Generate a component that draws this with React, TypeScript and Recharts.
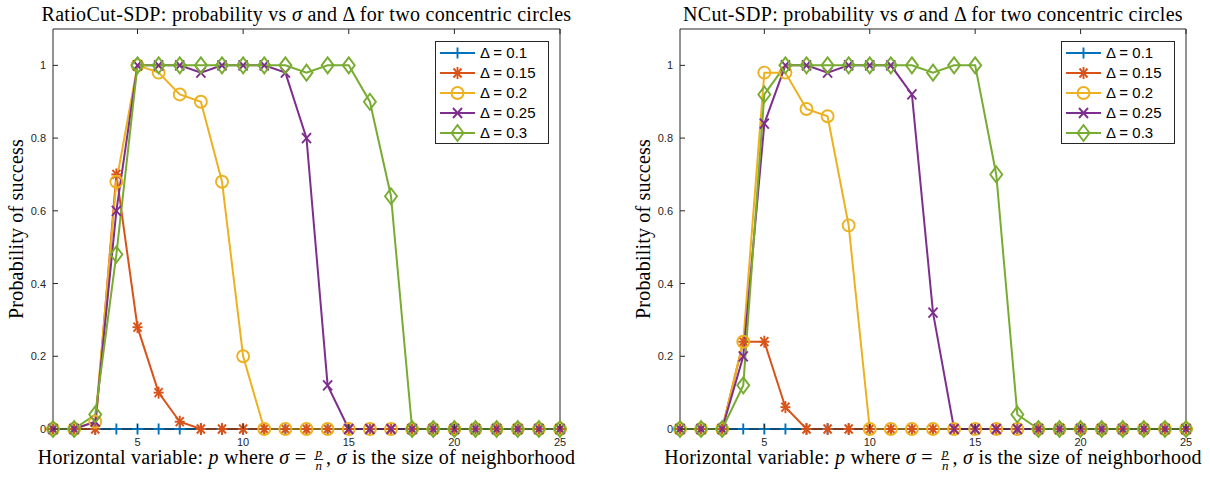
import React from "react";
import { LineChart, Line, XAxis, YAxis, Legend } from "recharts";

const X_VALUES = [1, 2, 3, 4, 5, 6, 7, 8, 9, 10, 11, 12, 13, 14, 15, 16, 17, 18, 19, 20, 21, 22, 23, 24, 25];
const X_TICKS = [5, 10, 15, 20, 25];
const Y_TICKS = [0, 0.2, 0.4, 0.6, 0.8, 1];
const SERIES_LABELS = ["Δ = 0.1", "Δ = 0.15", "Δ = 0.2", "Δ = 0.25", "Δ = 0.3"];

// RatioCut-SDP
const RATIO_D010 = [0, 0, 0, 0, 0, 0, 0, 0, 0, 0, 0, 0, 0, 0, 0, 0, 0, 0, 0, 0, 0, 0, 0, 0, 0];
const RATIO_D015 = [0, 0, 0, 0.7, 0.28, 0.1, 0.02, 0, 0, 0, 0, 0, 0, 0, 0, 0, 0, 0, 0, 0, 0, 0, 0, 0, 0];
const RATIO_D020 = [0, 0, 0.02, 0.68, 1, 0.98, 0.92, 0.9, 0.68, 0.2, 0, 0, 0, 0, 0, 0, 0, 0, 0, 0, 0, 0, 0, 0, 0];
const RATIO_D025 = [0, 0, 0.02, 0.6, 1, 1, 1, 0.98, 1, 1, 1, 0.98, 0.8, 0.12, 0, 0, 0, 0, 0, 0, 0, 0, 0, 0, 0];
const RATIO_D030 = [0, 0, 0.04, 0.48, 1, 1, 1, 1, 1, 1, 1, 1, 0.98, 1, 1, 0.9, 0.64, 0, 0, 0, 0, 0, 0, 0, 0];

// NCut-SDP
const NCUT_D010 = [0, 0, 0, 0, 0, 0, 0, 0, 0, 0, 0, 0, 0, 0, 0, 0, 0, 0, 0, 0, 0, 0, 0, 0, 0];
const NCUT_D015 = [0, 0, 0, 0.24, 0.24, 0.06, 0, 0, 0, 0, 0, 0, 0, 0, 0, 0, 0, 0, 0, 0, 0, 0, 0, 0, 0];
const NCUT_D020 = [0, 0, 0, 0.24, 0.98, 0.98, 0.88, 0.86, 0.56, 0, 0, 0, 0, 0, 0, 0, 0, 0, 0, 0, 0, 0, 0, 0, 0];
const NCUT_D025 = [0, 0, 0, 0.2, 0.84, 1, 1, 0.98, 1, 1, 1, 0.92, 0.32, 0, 0, 0, 0, 0, 0, 0, 0, 0, 0, 0, 0];
const NCUT_D030 = [0, 0, 0, 0.12, 0.92, 1, 1, 1, 1, 1, 1, 1, 0.98, 1, 1, 0.7, 0.04, 0, 0, 0, 0, 0, 0, 0, 0];

const SERIF = '"Liberation Serif", "DejaVu Serif", serif';
const SANS = '"Liberation Sans", Arial, sans-serif';
const AXIS_COLOR = "#262626";

const KEYS = ["d010", "d015", "d020", "d025", "d030"];
const COLORS = ["#0072BD", "#D95319", "#EDB120", "#7E2F8E", "#77AC30"];
const SHAPES = ["plus", "star", "circle", "cross", "diamond"];

function buildRows(series: number[][]) {
  return X_VALUES.map((x, i) => {
    const row: any = { x };
    KEYS.forEach((k, j) => {
      row[k] = series[j][i];
    });
    return row;
  });
}

function Marker({ shape, cx, cy, color }: { shape: string; cx: number; cy: number; color: string }) {
  const sw = 1.9;
  if (shape === "plus") {
    return (
      <g stroke={color} strokeWidth={sw}>
        <line x1={cx - 5.5} y1={cy} x2={cx + 5.5} y2={cy} />
        <line x1={cx} y1={cy - 5.5} x2={cx} y2={cy + 5.5} />
      </g>
    );
  }
  if (shape === "star") {
    return (
      <g stroke={color} strokeWidth={sw}>
        <line x1={cx - 5} y1={cy} x2={cx + 5} y2={cy} />
        <line x1={cx} y1={cy - 6} x2={cx} y2={cy + 6} />
        <line x1={cx - 4} y1={cy - 4.5} x2={cx + 4} y2={cy + 4.5} />
        <line x1={cx - 4} y1={cy + 4.5} x2={cx + 4} y2={cy - 4.5} />
      </g>
    );
  }
  if (shape === "circle") {
    return <circle cx={cx} cy={cy} r={6} fill="none" stroke={color} strokeWidth={sw} />;
  }
  if (shape === "cross") {
    return (
      <g stroke={color} strokeWidth={sw}>
        <line x1={cx - 4.5} y1={cy - 5} x2={cx + 4.5} y2={cy + 5} />
        <line x1={cx - 4.5} y1={cy + 5} x2={cx + 4.5} y2={cy - 5} />
      </g>
    );
  }
  return (
    <polygon
      points={`${cx},${cy - 8} ${cx + 6},${cy} ${cx},${cy + 8} ${cx - 6},${cy}`}
      fill="none"
      stroke={color}
      strokeWidth={sw}
    />
  );
}

function makeDot(shape: string, color: string) {
  return (props: any) => {
    const { cx, cy, index } = props;
    if (cx == null || cy == null) return <g key={`e-${index}`} />;
    return <Marker key={`m-${index}`} shape={shape} cx={cx} cy={cy} color={color} />;
  };
}

const BottomTick = (props: any) => {
  const { x, y, payload } = props;
  return (
    <g>
      <line x1={x} y1={y} x2={x} y2={y - 5} stroke={AXIS_COLOR} />
      <text x={x} y={y + 17} textAnchor="middle" fontSize={11} fill={AXIS_COLOR} fontFamily={SANS}>
        {payload.value}
      </text>
    </g>
  );
};

const TopTick = (props: any) => {
  const { x, y } = props;
  return <line x1={x} y1={y} x2={x} y2={y + 5} stroke={AXIS_COLOR} />;
};

const LeftTick = (props: any) => {
  const { x, y, payload } = props;
  return (
    <g>
      <line x1={x} y1={y} x2={x + 5} y2={y} stroke={AXIS_COLOR} />
      <text x={x - 7} y={y + 4} textAnchor="end" fontSize={11} fill={AXIS_COLOR} fontFamily={SANS}>
        {payload.value}
      </text>
    </g>
  );
};

const RightTick = (props: any) => {
  const { x, y } = props;
  return <line x1={x} y1={y} x2={x - 5} y2={y} stroke={AXIS_COLOR} />;
};

function LegendBox() {
  return (
    <svg width={114} height={103} style={{ display: "block" }}>
      <rect x={0.5} y={0.5} width={113} height={102} fill="#fff" stroke={AXIS_COLOR} />
      {SERIES_LABELS.map((label, i) => {
        const cy = 12 + i * 20;
        return (
          <g key={label}>
            <line x1={5} y1={cy} x2={40} y2={cy} stroke={COLORS[i]} strokeWidth={2} />
            <Marker shape={SHAPES[i]} cx={22.5} cy={cy} color={COLORS[i]} />
            <text x={45} y={cy + 5} fontSize={15} fontFamily={SANS} fill="#000">
              {label}
            </text>
          </g>
        );
      })}
    </svg>
  );
}

function Frac() {
  return (
    <span
      style={{
        display: "inline-flex",
        flexDirection: "column",
        alignItems: "center",
        fontSize: 13,
        lineHeight: "12px",
        verticalAlign: "middle",
        fontStyle: "italic",
        letterSpacing: 0,
        margin: "0 3px",
      }}
    >
      <span style={{ borderBottom: `1px solid ${AXIS_COLOR}`, padding: "0 1px" }}>p</span>
      <span>n</span>
    </span>
  );
}

function SubPlot({
  left,
  marginLeft,
  marginRight,
  title,
  series,
  legendLeft,
}: {
  left: number;
  marginLeft: number;
  marginRight: number;
  title: React.ReactNode;
  series: number[][];
  legendLeft: number;
}) {
  const width = 605;
  const rows = buildRows(series);
  const plotCenter = marginLeft + (width - marginLeft - marginRight) / 2;
  return (
    <div style={{ position: "absolute", left, top: 0, width, height: 477 }}>
      <div
        style={{
          position: "absolute",
          left: plotCenter,
          top: 2,
          transform: "translateX(-50%)",
          whiteSpace: "nowrap",
          fontFamily: SERIF,
          fontSize: 20,
          letterSpacing: 0.3,
          lineHeight: "24px",
          color: "#000",
        }}
      >
        {title}
      </div>
      <div
        style={{
          position: "absolute",
          left: marginLeft - 37,
          top: 229,
          transform: "translate(-50%, -50%) rotate(-90deg)",
          whiteSpace: "nowrap",
          fontFamily: SERIF,
          fontSize: 20,
          letterSpacing: 0.2,
          color: "#000",
        }}
      >
        Probability of success
      </div>
      <div
        style={{
          position: "absolute",
          left: plotCenter,
          top: 446,
          transform: "translateX(-50%)",
          whiteSpace: "nowrap",
          fontFamily: SERIF,
          fontSize: 20,
          letterSpacing: 0.25,
          color: "#000",
        }}
      >
        Horizontal variable: <i>p</i> where <i>σ</i> = <Frac />, <i>σ</i> is the size of neighborhood
      </div>
      <LineChart
        width={width}
        height={477}
        data={rows}
        margin={{ top: 28, bottom: 28, left: marginLeft - 40, right: marginRight - 1 }}
      >
        <XAxis
          dataKey="x"
          type="number"
          domain={[1, 25]}
          ticks={X_TICKS}
          interval={0}
          height={20}
          tickSize={0}
          tickMargin={0}
          tick={BottomTick}
          stroke={AXIS_COLOR}
        />
        <XAxis
          xAxisId="top"
          orientation="top"
          dataKey="x"
          type="number"
          domain={[1, 25]}
          ticks={X_TICKS}
          interval={0}
          height={1}
          tickSize={0}
          tickMargin={0}
          tick={TopTick}
          stroke={AXIS_COLOR}
        />
        <YAxis
          type="number"
          domain={[0, 1.1]}
          ticks={Y_TICKS}
          interval={0}
          width={40}
          tickSize={0}
          tickMargin={0}
          tick={LeftTick}
          stroke={AXIS_COLOR}
        />
        <YAxis
          yAxisId="right"
          orientation="right"
          type="number"
          domain={[0, 1.1]}
          ticks={Y_TICKS}
          interval={0}
          width={1}
          tickSize={0}
          tickMargin={0}
          tick={RightTick}
          stroke={AXIS_COLOR}
        />
        {KEYS.map((k, i) => (
          <Line
            key={k}
            type="linear"
            dataKey={k}
            name={SERIES_LABELS[i]}
            stroke={COLORS[i]}
            strokeWidth={2}
            dot={makeDot(SHAPES[i], COLORS[i])}
            activeDot={false}
            isAnimationActive={false}
          />
        ))}
        <Legend
          layout="vertical"
          align="center"
          verticalAlign="middle"
          content={() => <LegendBox />}
          wrapperStyle={{ left: legendLeft - left, top: 41, width: 114, height: 103 }}
        />
      </LineChart>
    </div>
  );
}

export default function App() {
  return (
    <div style={{ position: "absolute", left: 0, top: 0, width: 1210, height: 477, background: "#fff" }}>
      <SubPlot
        left={0}
        marginLeft={53}
        marginRight={45}
        legendLeft={435}
        series={[RATIO_D010, RATIO_D015, RATIO_D020, RATIO_D025, RATIO_D030]}
        title={
          <>
            RatioCut-SDP: probability vs <i>σ</i> and Δ for two concentric circles
          </>
        }
      />
      <SubPlot
        left={605}
        marginLeft={75}
        marginRight={24}
        legendLeft={1061}
        series={[NCUT_D010, NCUT_D015, NCUT_D020, NCUT_D025, NCUT_D030]}
        title={
          <>
            NCut-SDP: probability vs <i>σ</i> and Δ for two concentric circles
          </>
        }
      />
    </div>
  );
}
